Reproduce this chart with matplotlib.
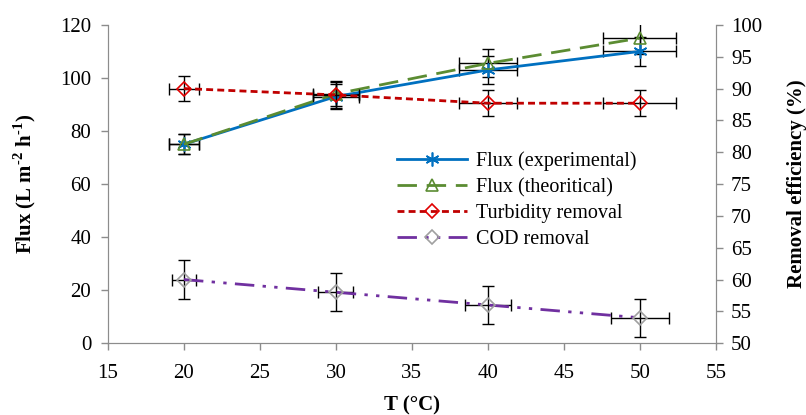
import matplotlib.pyplot as plt
import numpy as np

plt.rcParams['font.family'] = ['Liberation Serif', 'DejaVu Serif']
plt.rcParams['mathtext.fontset'] = 'custom'
plt.rcParams['mathtext.rm'] = 'Liberation Serif'
plt.rcParams['mathtext.bf'] = 'Liberation Serif:bold'

temps = [20, 30, 40, 50]
flux_exp = [75, 93, 103, 110]
flux_theo = [75, 94, 105.5, 115]
turbidity = [90, 89, 87.7, 87.7]
cod = [60, 58, 56, 54]

flux_yerr = [3.8, 4.7, 5.2, 5.5]
flux_theo_yerr = [3.8, 4.7, 5.3, 5.8]
removal_yerr = [2, 2, 2, 2]
cod_yerr = [3, 3, 3, 3]
t_err = [1, 1.5, 1.9, 2.4]
cod_t_err = [0.8, 1.15, 1.5, 1.9]

grey = '#8c8c8c'

fig = plt.figure(figsize=(8.06, 4.15), dpi=100)
ax = fig.add_axes([0.134, 0.173, 0.754, 0.767])
ax2 = ax.twinx()

eb = dict(fmt='none', ecolor='black', elinewidth=1, capsize=4.5, capthick=1, zorder=2)
ax.errorbar(temps, flux_exp, yerr=flux_yerr, xerr=t_err, **eb)
ax.errorbar(temps, flux_theo, yerr=flux_theo_yerr, xerr=t_err, **eb)
ax2.errorbar(temps, turbidity, yerr=removal_yerr, xerr=t_err, **eb)
ax2.errorbar(temps, cod, yerr=cod_yerr, xerr=cod_t_err, **eb)

l1, = ax.plot(temps, flux_exp, color='#0070C0', lw=2, marker=(6, 2, 0), ms=10,
              mec='#0070C0', mew=1.2, label='Flux (experimental)', zorder=3)
l2, = ax.plot(temps, flux_theo, color='#5B8C32', lw=2, dashes=(7, 3.5), marker='^',
              ms=8, mfc='none', mec='#5B8C32', mew=1.2, label='Flux (theoritical)', zorder=3)
l3, = ax2.plot(temps, turbidity, color='#C00000', lw=2, dashes=(2.5, 1.5), marker='D',
               ms=7, mfc='none', mec='#E00000', mew=1.2, label='Turbidity removal', zorder=3)
l4, = ax2.plot(temps, cod, color='#7030A0', lw=2, dashes=(7, 3, 1.2, 3, 1.2, 3), marker='D',
               ms=7, mfc='none', mec='#A0A0A0', mew=1.2, label='COD removal', zorder=3)

ax.set_xlim(15, 55)
ax.set_ylim(0, 120)
ax2.set_ylim(50, 100)
ax.set_xticks(np.arange(15, 56, 5))
ax.set_yticks(np.arange(0, 121, 20))
ax2.set_yticks(np.arange(50, 101, 5))

for a in (ax, ax2):
    for s in a.spines.values():
        s.set_color(grey)
    a.spines['top'].set_visible(False)
    a.tick_params(colors=grey, labelcolor='black', labelsize=15, length=5, width=1)
ax.tick_params(axis='x', pad=10)
ax.tick_params(axis='y', pad=7)
ax2.tick_params(axis='y', pad=6)

ax.set_xlabel('T (°C)', fontsize=15, fontweight='bold', labelpad=9)
ax.set_ylabel(r'Flux (L m$^{\text{-}\mathbf{2}}$ h$^{\text{-}\mathbf{1}}$)', fontsize=15,
              fontweight='bold', labelpad=16)
ax2.set_ylabel('Removal efficiency (%)', fontsize=15, fontweight='bold', labelpad=18)

ax2.legend(handles=[l1, l2, l3, l4], loc='upper left', bbox_to_anchor=(0.48, 0.66),
           bbox_transform=fig.transFigure, frameon=False, fontsize=14.5,
           handlelength=3.5, handletextpad=0.45, labelspacing=0.35, borderpad=0)

fig.savefig('out.png', dpi=100)
